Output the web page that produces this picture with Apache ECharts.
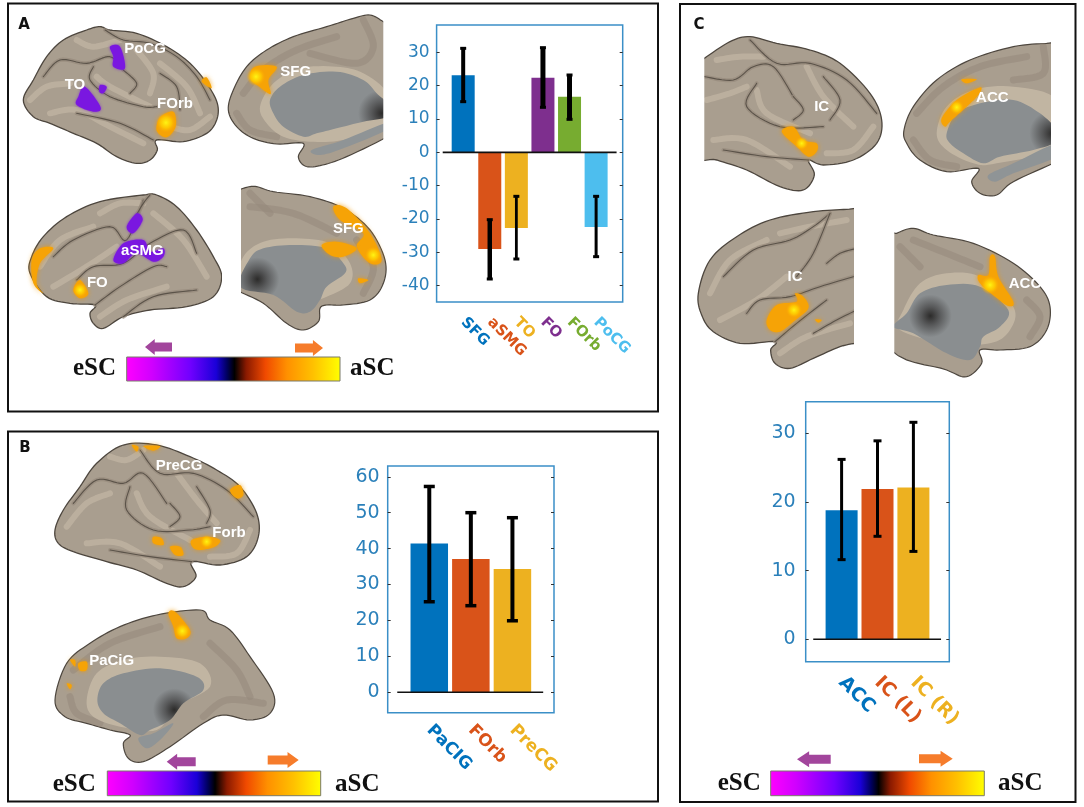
<!DOCTYPE html>
<html><head><meta charset="utf-8">
<style>html,body{margin:0;padding:0;background:#fff}#c{width:1084px;height:807px}</style>
<script src="https://cdn.jsdelivr.net/npm/echarts@6/dist/echarts.min.js"></script>
</head><body><div id="c"></div>
<script>
// ---------- data ----------
const categoriesA=['SFG','aSMG','TO','FO','FOrb','PoCG'];
const valuesA=[23.1,-29,-22.7,22.4,16.7,-22.4];
const lowerA=[15.2,-38,-32,13.5,9.9,-31.3];
const upperA=[31.2,-20.2,-13.2,31.4,23.2,-13.2];
const ticksA=[-40,-30,-20,-10,0,10,20,30];

const categoriesB=['PaCIG','FOrb','PreCG'];
const valuesB=[41.4,37.1,34.3];
const lowerB=[25.2,24.1,19.9];
const upperB=[57.3,50,48.6];
const ticksB=[0,10,20,30,40,50,60];

const categoriesC=['ACC','IC (L)','IC (R)'];
const valuesC=[18.8,21.9,22.1];
const lowerC=[11.6,15,12.8];
const upperC=[26.2,28.9,31.6];
const ticksC=[0,10,20,30];

const colorsA=['#0072BD','#D95319','#EDB120','#7E2F8E','#77AC30','#4DBEEE'];
const colorsBC=['#0072BD','#D95319','#EDB120'];

// ---------- chart layout ----------
const panels=[
 {cat:categoriesA,val:valuesA,lo:lowerA,hi:upperA,ticks:ticksA,col:colorsA,box:[436.6,25,186.1,277],min:-44.9,max:38.2,bw:23,lw:[4,4.5,2.8,5,5,3],cw:3,cap:6,fs:15,tfs:17,lm:7,base:[0.23,6.77],xm:18},
 {cat:categoriesB,val:valuesB,lo:lowerB,hi:upperB,ticks:ticksB,col:colorsBC,box:[387.7,466,166.3,246.7],min:-5.7,max:63,bw:37.5,lw:[4,4,4],cw:3.5,cap:11,fs:17,tfs:19,lm:8,base:[0.23,3.74],xm:15},
 {cat:categoriesC,val:valuesC,lo:lowerC,hi:upperC,ticks:ticksC,col:colorsBC,box:[805.7,401.7,143.6,260],min:-3.26,max:34.6,bw:32,lw:[3,3,3],cw:3,cap:8,fs:19,tfs:19,lm:10,base:[0.21,3.77],xm:18}
];
const grid=[],xAxis=[],yAxis=[],series=[];
const tickBlue='#2b80ba',boxBlue='#3b8fc7';
panels.forEach((p,i)=>{
 grid.push({left:p.box[0],top:p.box[1],width:p.box[2],height:p.box[3],show:true,borderColor:boxBlue,borderWidth:1.5,backgroundColor:'transparent'});
 const cats=[''].concat(p.cat,['']);
 xAxis.push({type:'category',gridIndex:i,data:cats,boundaryGap:false,axisLine:{show:false},axisTick:{show:false},splitLine:{show:false},
  axisLabel:{interval:0,rotate:-45,margin:p.xm,fontFamily:'DejaVu Sans',fontWeight:'bold',fontSize:p.fs,
   color:(v,idx)=>{const k=p.cat.indexOf(v);return k>=0?p.col[k]:'#000';}}});
 xAxis.push({type:'value',gridIndex:i,min:0,max:p.cat.length+1,show:false,splitLine:{show:false}});
 yAxis.push({type:'value',gridIndex:i,min:p.min,max:p.max,axisLine:{show:false},splitLine:{show:false},
  axisTick:{show:true,inside:true,length:3,customValues:p.ticks,lineStyle:{color:'#333',width:1}},
  axisLabel:{customValues:p.ticks,color:tickBlue,fontFamily:'DejaVu Sans',fontSize:p.tfs,margin:p.lm,formatter:v=>String(v)}});
 yAxis.push({type:'value',gridIndex:i,position:'right',min:p.min,max:p.max,axisLine:{show:false},splitLine:{show:false},
  axisTick:{show:true,inside:true,length:3,customValues:p.ticks,lineStyle:{color:'#333',width:1}},
  axisLabel:{show:false}});
 series.push({type:'bar',xAxisIndex:i*2,yAxisIndex:i*2,barWidth:p.bw,silent:true,
  data:[null].concat(p.val.map((v,k)=>({value:v,itemStyle:{color:p.col[k]}})),[null])});
 series.push({type:'line',xAxisIndex:i*2+1,yAxisIndex:i*2,symbol:'none',silent:true,z:4,
  lineStyle:{color:'#111',width:1.6},data:[[p.base[0],0],[p.base[1],0]]});
 series.push({type:'custom',xAxisIndex:i*2,yAxisIndex:i*2,z:5,silent:true,clip:false,
  encode:{x:0,y:[1,2]},data:p.lo.map((l,k)=>[k+1,l,p.hi[k]]),
  renderItem:(params,api)=>{
   const a=api.coord([api.value(0),api.value(1)]),b=api.coord([api.value(0),api.value(2)]);
   const st={stroke:'#000',lineWidth:p.lw[params.dataIndex]},cs={stroke:'#000',lineWidth:p.cw};
   return {type:'group',children:[
    {type:'line',shape:{x1:a[0],y1:a[1],x2:b[0],y2:b[1]},style:st},
    {type:'line',shape:{x1:a[0]-p.cap/2,y1:a[1],x2:a[0]+p.cap/2,y2:a[1]},style:cs},
    {type:'line',shape:{x1:b[0]-p.cap/2,y1:b[1],x2:b[0]+p.cap/2,y2:b[1]},style:cs}]};
  }});
});

// ---------- illustration helpers (brain pictures, frames, colour bars) ----------
const g=[];
const T=(o,pts)=>pts.map(([x,y])=>[x/3+o[0],y/3+o[1]]);
function cr(pts,closed){
 const n=pts.length,out=[],at=i=>closed?pts[(i+n)%n]:pts[Math.max(0,Math.min(n-1,i))];
 const segs=closed?n:n-1;
 for(let i=0;i<segs;i++){const p0=at(i-1),p1=at(i),p2=at(i+1),p3=at(i+2);
  for(let s=0;s<8;s++){const t=s/8,t2=t*t,t3=t2*t;
   out.push([0,1].map(k=>.5*(2*p1[k]+(p2[k]-p0[k])*t+(2*p0[k]-5*p1[k]+4*p2[k]-p3[k])*t2+(3*p1[k]-p0[k]-3*p2[k]+p3[k])*t3)));}}
 if(!closed)out.push(pts[n-1]);
 return out;
}
function poly(o,pts,fill,opt={}){g.push({type:'polygon',silent:true,shape:{points:cr(T(o,pts),true)},
 style:{fill:fill,stroke:opt.stroke||null,lineWidth:opt.lw||0,shadowBlur:opt.blur||0,shadowColor:opt.shadow||'transparent',opacity:opt.op==null?1:opt.op}});}
function line(o,pts,color,w,op){g.push({type:'polyline',silent:true,shape:{points:cr(T(o,pts),false)},style:{fill:null,stroke:color,lineWidth:w,opacity:op==null?1:op,lineCap:'round',lineJoin:'round'}});}
function hot(o,x,y,r){g.push({type:'circle',silent:true,shape:{cx:x/3+o[0],cy:y/3+o[1],r:r/3},style:{fill:{type:'radial',x:.5,y:.5,r:.5,colorStops:[{offset:0,color:'rgba(255,245,20,1)'},{offset:.55,color:'rgba(255,205,0,.8)'},{offset:1,color:'rgba(255,170,0,0)'}]}}});}
function blobO(o,pts,h){poly(o,pts,'#f6a306',{blur:5,shadow:'rgba(240,150,0,.8)'}); if(h)h.forEach(c=>hot(o,c[0],c[1],c[2]));}
function blobP(o,pts){poly(o,pts,'#7a17e0',{blur:3,shadow:'rgba(120,20,220,.7)'});}
function label(o,x,y,t){g.push({type:'text',silent:true,z:3,style:{text:t,x:x/3+o[0],y:y/3+o[1],fill:'#fff',font:'bold 15px "Liberation Sans"',align:'center',verticalAlign:'middle',shadowBlur:2,shadowColor:'rgba(255,255,255,.6)'}});}
const BASE='#a99e8f',LIGHT='#c5b9a6',MID='#95897b',DARK='#4d463e',GRAY='#8a8e90';
function cortex(o,outline,gyri,sulci){
 poly(o,outline,BASE,{stroke:DARK,lw:1.3});
 gyri.forEach(l=>line(o,l,LIGHT,6,.65));
 sulci.forEach(l=>{line(o,l,MID,4,.7);line(o,l,'#5b5349',1.1);});
}
function medial(o,outline,ring,center,lower,gyri,dk){
 poly(o,outline,BASE,{stroke:DARK,lw:1.2});
 gyri.forEach(l=>line(o,l,MID,7,.55));
 poly(o,ring,LIGHT,{op:.85});
 poly(o,center,{type:'radial',x:dk[0],y:dk[1],r:dk[2],colorStops:[{offset:0,color:'#2c2b2a'},{offset:.35,color:'#58595a'},{offset:.8,color:GRAY},{offset:1,color:GRAY}]});
 if(lower)poly(o,lower,'#8f9496');
}
function rect(x,y,w,h,fill,stroke,lw){g.push({type:'rect',silent:true,shape:{x,y,width:w,height:h},style:{fill:fill,stroke:stroke||null,lineWidth:lw||0}});}

const A=[10,0],B=[10,430],C=[680,0];
// Panel A
cortex(A,[[40,300],[70,240],[110,170],[160,120],[230,90],[270,80],[300,90],[380,100],[470,140],[540,190],[590,250],[622,310],[620,360],[590,400],[520,425],[440,420],[442,450],[420,480],[380,490],[320,470],[260,430],[190,400],[120,370],[70,350]],
 [[[60,300],[110,260],[180,250]],[[120,340],[200,330],[300,380],[400,430]],[[260,230],[300,260],[420,320]],[[380,150],[430,220],[420,280]],[[450,190],[530,260],[570,340]],[[200,120],[250,140],[330,120]],[[480,380],[540,390],[600,350]]],
 [[[100,230],[150,180],[230,190],[300,170],[340,210]],[[285,90],[340,120],[420,130],[500,170],[560,230],[600,300]],[[250,200],[240,240],[300,290],[400,320],[440,320]],[[200,340],[330,370],[430,420]],[[340,210],[380,250],[360,280]],[[450,220],[500,260],[510,330]]]);
blobP(A,[[300,140],[330,140],[345,205],[310,200],[310,170]]);
blobP(A,[[205,290],[225,260],[272,322],[250,335],[200,315]]);
blobP(A,[[270,255],[290,260],[280,280],[268,275]]);
blobO(A,[[440,392],[450,352],[490,335],[497,380],[470,412]],[[468,368,30]]);
blobO(A,[[575,245],[590,232],[605,265]]);
medial(A,[[655,330],[670,270],[710,200],[770,150],[850,110],[950,80],[1030,55],[1080,45],[1120,65],[1145,80],[1148,120],[1148,380],[1140,405],[1010,470],[930,497],[885,498],[865,470],[880,430],[800,432],[730,415],[680,380]],
 [[750,320],[790,250],[870,205],[980,200],[1060,220],[1130,280],[1130,380],[1000,420],[900,425],[820,410],[770,370]],
 [[780,300],[810,260],[880,225],[980,215],[1060,240],[1100,280],[1130,310],[1130,350],[1060,365],[980,385],[920,400],[880,410],[820,380],[790,340]],
 [[905,450],[1000,420],[1130,368],[1130,390],[1000,445],[930,465]],
 [[[700,280],[760,210],[860,150],[980,110]],[[680,340],[720,390],[800,410]],[[1060,60],[1090,140],[1040,190],[900,160]]],[.94,.64,.45]);
blobO(A,[[720,235],[735,200],[800,200],[775,240],[782,282],[750,262]],[[738,230,28]]);
cortex(A,[[60,820],[65,770],[100,710],[170,650],[270,605],[400,585],[440,585],[500,620],[560,690],[610,770],[635,830],[610,890],[530,920],[420,930],[340,950],[280,985],[250,970],[240,940],[255,915],[180,910],[110,890]],
 [[[90,800],[150,720],[250,680]],[[130,860],[230,800],[320,740]],[[270,950],[350,900],[470,860]],[[430,640],[520,720],[590,830]],[[270,640],[330,610],[400,610]]],
 [[[130,770],[190,720],[300,680],[350,720],[400,600]],[[200,840],[250,800],[340,790],[420,730],[520,690],[560,760]],[[255,915],[330,860],[430,800],[470,800]],[[340,950],[430,890],[560,870]],[[420,585],[400,610],[370,660]]]);
blobP(A,[[350,680],[380,640],[398,660],[370,700]]);
blobP(A,[[310,780],[340,730],[400,720],[420,755],[460,745],[460,770],[430,785],[380,760],[340,790]]);
blobO(A,[[65,780],[90,745],[130,745],[90,790],[80,850],[100,880],[70,850]]);
blobO(A,[[190,870],[210,840],[235,880],[210,895]],[[210,870,22]]);
medial(A,[[670,600],[680,575],[710,562],[740,560],[790,575],[900,590],[1000,625],[1080,690],[1125,780],[1120,850],[1080,900],[1000,915],[950,915],[930,925],[925,965],[880,990],[830,970],[760,910],[680,870],[665,850],[665,650]],
 [[700,770],[760,725],[860,715],[960,730],[1020,790],[1020,850],[950,890],[900,900],[790,880],[690,840]],
 [[720,775],[760,745],[850,735],[950,745],[1000,790],[1005,820],[950,860],[930,900],[900,935],[860,935],[790,885],[690,860]],null,
 [[[720,620],[850,640],[980,700]],[[1040,720],[1090,800],[1060,880]],[[720,580],[780,640]]],[.17,.5,.4]);
blobO(A,[[970,620],[1010,625],[1080,700],[1115,780],[1080,790],[1040,740],[1060,700],[990,660]],[[1090,765,25]]);
blobO(A,[[935,735],[980,725],[1040,745],[1000,770],[960,765]]);
blobO(A,[[1045,835],[1075,840],[1050,850]]);
rect(383.3,8,18,165,'#fff');
rect(222,180,19,160,'#fff');
[[405,148,'PoCG'],[195,255,'TO'],[495,312,'FOrb'],[857,215,'SFG'],[397,752,'aSMG'],[262,848,'FO'],[1015,687,'SFG']].forEach(l=>label(A,...l));

// Panel B
cortex(B,[[135,300],[160,240],[210,170],[260,100],[340,45],[440,45],[540,80],[620,120],[690,170],[740,250],[745,320],[710,380],[630,405],[545,395],[558,440],[520,470],[470,460],[380,420],[290,395],[190,365],[145,340]],
 [[[170,290],[230,220],[300,190]],[[230,340],[330,340],[450,410]],[[380,190],[420,260],[540,330]],[[500,130],[560,210],[620,280]],[[300,80],[350,90],[400,60]],[[600,380],[680,370],[720,300]]],
 [[[190,220],[260,150],[340,160],[400,130],[470,220]],[[390,60],[450,130],[550,130],[650,180],[730,260]],[[360,170],[350,240],[430,300],[540,300],[600,290]],[[300,360],[420,380],[545,395]],[[480,220],[510,260],[480,290]],[[560,170],[600,240],[590,280]]]);
blobO(B,[[365,45],[385,50],[380,65]]);
blobO(B,[[400,48],[450,48],[430,62]]);
blobO(B,[[660,180],[690,165],[700,195],[680,205]]);
blobO(B,[[430,320],[455,325],[460,345],[430,340]]);
blobO(B,[[480,350],[510,350],[520,375],[495,375]]);
blobO(B,[[545,330],[590,320],[630,330],[615,350],[570,360],[548,352]],[[590,335,20]]);
medial(B,[[135,810],[170,700],[240,640],[330,590],[440,555],[570,540],[600,570],[660,600],[720,680],[790,790],[780,850],[720,870],[640,855],[580,880],[480,950],[400,995],[355,985],[340,940],[360,915],[300,900],[230,880],[165,860]],
 [[230,810],[260,730],[340,690],[450,680],[570,700],[600,770],[500,830],[440,900],[330,890],[250,860]],
 [[262,810],[280,760],[340,730],[450,715],[560,740],[580,780],[520,820],[480,870],[420,900],[390,915],[330,880],[280,850]],
 [[385,925],[430,910],[490,880],[450,930],[410,955]],
 [[[190,720],[300,640],[450,590]],[[600,640],[680,720],[720,800]],[[580,860],[650,810],[760,820]],[[180,800],[200,850],[270,880]]],[.72,.62,.4]);
blobO(B,[[475,550],[495,545],[540,600],[530,625],[500,625],[490,590]],[[517,603,24]]);
blobO(B,[[180,690],[195,690],[195,710]]);
blobO(B,[[205,700],[230,695],[230,720],[210,722]]);
blobO(B,[[170,760],[185,765],[180,778]]);
[[507,108,'PreCG'],[657,310,'Forb'],[305,692,'PaCiG']].forEach(l=>label(B,...l));

// Panel C
cortex(C,[[40,200],[73,175],[150,125],[210,110],[290,130],[390,150],[480,190],[570,280],[605,360],[590,430],[520,480],[430,495],[385,480],[403,525],[370,570],[300,560],[200,510],[110,480],[40,455]],
 [[[80,300],[150,280],[200,260]],[[100,420],[200,420],[330,500]],[[230,270],[260,340],[390,400]],[[380,200],[430,290],[520,380]],[[110,180],[180,170],[250,170]],[[440,460],[520,450],[580,380]]],
 [[[73,230],[160,240],[220,200],[280,200],[340,290]],[[210,120],[290,190],[390,190],[500,240],[590,340]],[[230,250],[200,320],[300,380],[430,380]],[[130,450],[260,470],[385,480]],[[340,290],[370,330],[340,360]],[[430,230],[480,300],[450,360]]]);
blobO(C,[[305,395],[340,380],[370,420],[410,430],[410,455],[385,470],[350,440]],[[365,430,20]]);
medial(C,[[672,390],[700,320],[770,240],[870,180],[1000,140],[1100,130],[1130,128],[1148,140],[1148,470],[1130,485],[1000,545],[950,585],[900,580],[875,545],[895,505],[800,515],[720,480],[680,430]],
 [[770,400],[800,320],[880,270],[1000,260],[1130,300],[1130,440],[950,490],[880,490],[800,450]],
 [[800,400],[830,340],[900,310],[1000,300],[1080,340],[1130,390],[1130,425],[1060,450],[960,470],[910,490],[850,460],[810,430]],
 [[925,525],[1000,490],[1130,430],[1130,470],[1000,520],[945,545]],
 [[[710,340],[790,260],[900,200],[1040,170]],[[700,420],[750,480],[830,500]],[[1090,140],[1090,220],[1000,240]]],[.94,.53,.45]);
blobO(C,[[785,355],[830,300],[900,262],[895,285],[860,320],[810,365],[795,380]],[[830,322,22]]);
blobO(C,[[845,238],[890,238],[860,250]]);
cortex(C,[[55,880],[90,780],[170,710],[270,660],[400,635],[500,628],[540,625],[560,640],[560,1000],[540,1025],[480,1040],[400,1075],[330,1105],[285,1090],[272,1050],[285,1025],[180,1030],[100,995],[65,945]],
 [[[90,880],[150,780],[260,720]],[[120,960],[230,900],[320,830]],[[300,1060],[380,1010],[510,970]],[[300,700],[390,680],[500,660]]],
 [[[130,830],[220,750],[330,720],[400,680],[450,640]],[[450,640],[400,760],[350,830]],[[200,940],[240,900],[330,890],[420,860],[520,830]],[[285,1025],[350,970],[440,900]],[[400,1000],[470,960],[530,930]],[[440,790],[480,760],[530,745]]]);
blobO(C,[[260,960],[290,915],[350,905],[345,880],[370,890],[385,925],[340,965],[300,995],[270,990]],[[342,930,24]]);
blobO(C,[[405,958],[425,960],[415,968]]);
medial(C,[[620,720],[650,700],[700,685],[760,705],[880,730],[1000,790],[1080,860],[1110,920],[1100,990],[1050,1040],[960,1050],[900,1050],[905,1090],[860,1130],[800,1110],[620,1030]],
 [[670,930],[720,850],[800,820],[900,830],[1000,920],[990,990],[930,1030],[800,1030],[660,990]],
 [[680,940],[720,880],[800,855],[900,860],[985,930],[960,980],[910,1010],[900,1040],[870,1080],[800,1060],[700,1000],[640,980]],null,
 [[[700,720],[800,760],[900,800]],[[1040,900],[1080,950],[1050,1010]],[[660,740],[720,800]]],[.32,.42,.35]);
blobO(C,[[930,770],[945,770],[955,830],[1000,905],[985,918],[945,890],[900,850],[895,825],[925,825]],[[930,855,28]]);
rect(682,28,22.3,165,'#fff');
rect(1051,28,22,180,'#fff');
rect(854,195,40.3,190,'#fff');
[[425,320,'IC'],[937,295,'ACC'],[345,830,'IC'],[1035,853,'ACC']].forEach(l=>label(C,...l));

// frames
rect(8,3.5,650,408,null,'#111',2);
rect(8,431.5,650,370,null,'#111',2);
rect(680,4,395.5,798,null,'#111',2);

// colour bars
const bar=(x,y,w,h)=>g.push({type:'rect',silent:true,shape:{x,y,width:w,height:h},style:{stroke:'#7a7a6a',lineWidth:1,fill:{type:'linear',x:0,y:0,x2:1,y2:0,colorStops:[
 {offset:0,color:'#ff00ff'},{offset:.12,color:'#d000ff'},{offset:.3,color:'#7000ff'},{offset:.42,color:'#1a00d8'},{offset:.47,color:'#000060'},{offset:.505,color:'#000'},{offset:.56,color:'#8a1a00'},{offset:.65,color:'#f04a00'},{offset:.75,color:'#ff9000'},{offset:.87,color:'#ffc000'},{offset:1,color:'#ffff00'}]}}});
bar(126.7,357,213.3,24);bar(107.3,771,213.4,24.7);bar(770.7,771,213.6,24.7);
const serif=(x,y,t)=>g.push({type:'text',silent:true,style:{text:t,x,y:y-8,fill:'#111',font:'bold 25px "Liberation Serif"',align:'left',verticalAlign:'middle'}});
serif(73,377,'eSC');serif(350,377,'aSC');serif(52.7,793,'eSC');serif(335,793,'aSC');serif(717.7,792,'eSC');serif(998,792,'aSC');
// arrows
const arrow=(x1,x2,y,col,dir)=>{const L=x2-x1,hd=L*.36;const pts=dir<0?
 [[x1,y],[x1+hd,y-8],[x1+hd,y-4.5],[x2,y-4.5],[x2,y+4.5],[x1+hd,y+4.5],[x1+hd,y+8]]:
 [[x2,y],[x2-hd,y-8],[x2-hd,y-4.5],[x1,y-4.5],[x1,y+4.5],[x2-hd,y+4.5],[x2-hd,y+8]];
 g.push({type:'polygon',silent:true,shape:{points:pts},style:{fill:col}});};
const PUR='#a2459c',ORG='#f67c2b';
arrow(145,172,347,PUR,-1);arrow(295,323,348,ORG,1);
arrow(166.7,195.7,761.7,PUR,-1);arrow(267.7,298.7,760,ORG,1);
arrow(797,830.7,759.3,PUR,-1);arrow(919,952.7,758.7,ORG,1);
// panel letters
const letter=(x,y,t)=>g.push({type:'text',silent:true,style:{text:t,x,y,fill:'#111',font:'bold 15px "DejaVu Sans"',align:'center',verticalAlign:'middle'}});
letter(24,25,'A');letter(25,448,'B');letter(699,25,'C');

const chart=echarts.init(document.getElementById('c'),null,{renderer:'canvas'});
chart.setOption({animation:false,backgroundColor:'#fff',grid,xAxis,yAxis,series,graphic:{elements:g}});
</script></body></html>
